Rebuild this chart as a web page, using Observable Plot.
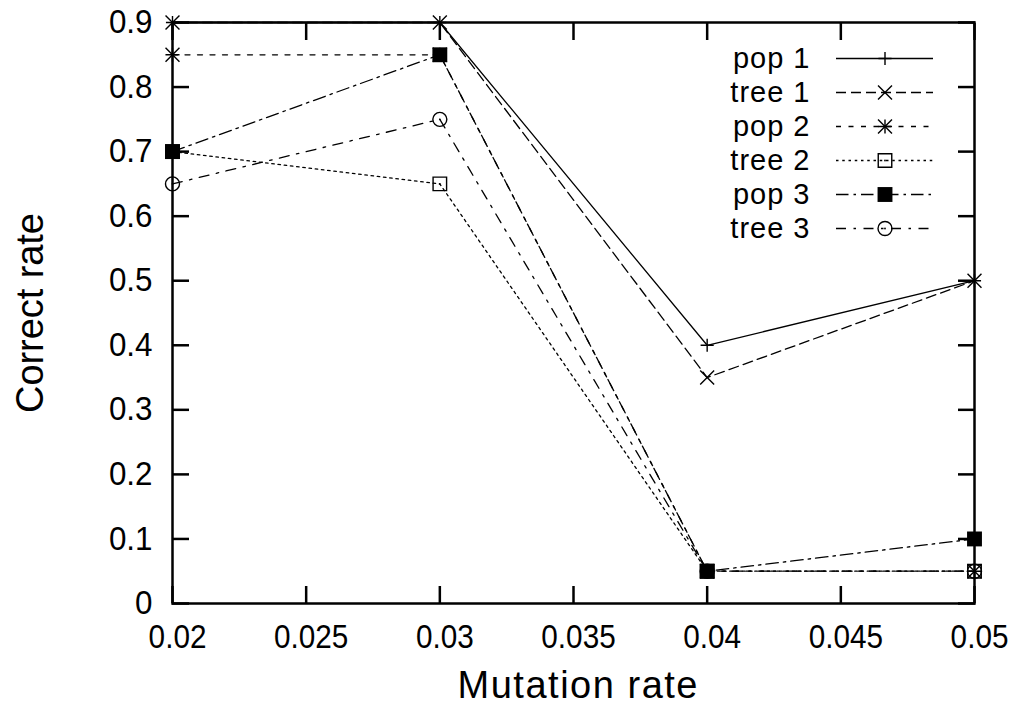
<!DOCTYPE html>
<html>
<head>
<meta charset="utf-8">
<script src="https://cdn.jsdelivr.net/npm/d3@7"></script>
<script src="https://cdn.jsdelivr.net/npm/@observablehq/plot@0.6"></script>
<style>
  html, body { margin: 0; padding: 0; background: #fff; }
  #wrap { position: relative; width: 1014px; height: 705px; }
  #legend { position: absolute; left: 700px; top: 40px; }
</style>
</head>
<body>
<div id="wrap"><div id="chart"></div><div id="legend"></div></div>
<script>
// ---- data ----
const mutationRates = [0.02, 0.03, 0.04, 0.05];
const seriesNames = ["pop 1", "tree 1", "pop 2", "tree 2", "pop 3", "tree 3"];
const pop1  = [0.90, 0.90, 0.40, 0.50];
const tree1 = [0.90, 0.90, 0.35, 0.50];
const pop2  = [0.85, 0.85, 0.05, 0.05];
const tree2 = [0.70, 0.65, 0.05, 0.05];
const pop3  = [0.70, 0.85, 0.05, 0.10];
const tree3 = [0.65, 0.75, 0.05, 0.05];
const xTicks = [0.02, 0.025, 0.03, 0.035, 0.04, 0.045, 0.05];
const yTicks = [0, 0.1, 0.2, 0.3, 0.4, 0.5, 0.6, 0.7, 0.8, 0.9];
const xTitle = "Mutation rate";
const yTitle = "Correct rate";

const seriesValues = [pop1, tree1, pop2, tree2, pop3, tree3];

// ---- styles (gnuplot-like) ----
const LW = 1.3, SW = 1.4;
const styles = {
  "pop 1":  {dash: null,               syms: [{symbol: "plus", r: 4.3}]},
  "tree 1": {dash: "10,5",             syms: [{symbol: "times", r: 6.4}]},
  "pop 2":  {dash: "5,7.5",            syms: [{symbol: "plus", r: 4.6}, {symbol: "times", r: 6.4}]},
  "tree 2": {dash: "2.5,3.75",         syms: [{symbol: "square2", r: 8.6}, {symbol: "circle", r: 0.9, fill: "black", stroke: "none"}]},
  "pop 3":  {dash: "12.5,5,2.5,5",     syms: [{symbol: "square", r: 8.4, fill: "black", stroke: "none"}]},
  "tree 3": {dash: "10,7.5,2.5,7.5",   syms: [{symbol: "circle", r: 7}, {symbol: "circle", r: 0.9, fill: "black", stroke: "none"}]}
};

const REGULAR = "'Liberation Sans', Arial, sans-serif";

const rows = [];
seriesNames.forEach((s, i) => seriesValues[i].forEach((v, j) => rows.push({series: s, x: mutationRates[j], y: v})));

function symbolMarks(data, xo, yo, sym) {
  return Plot.dot(data, {
    x: xo, y: yo, symbol: sym.symbol, r: sym.r,
    fill: sym.fill || "none", stroke: sym.stroke || "black", strokeWidth: SW
  });
}

const fmt = d => String(+d.toFixed(4));
const marks = [];
for (const s of seriesNames) {
  const data = rows.filter(r => r.series === s);
  const st = styles[s];
  marks.push(Plot.line(data, {x: "x", y: "y", stroke: "black", strokeWidth: LW, strokeDasharray: st.dash || undefined}));
  for (const sym of st.syms) marks.push(symbolMarks(data, "x", "y", sym));
}

marks.push(
  Plot.frame({stroke: "black", strokeWidth: 2.5}),
  Plot.axisX(xTicks, {anchor: "bottom", tickSize: -17, tickPadding: 38, tickFormat: fmt, strokeWidth: 2.5, label: null}),
  Plot.axisX(xTicks, {anchor: "top", tickSize: -17, tickPadding: 0, tickFormat: () => "", strokeWidth: 2.5, label: null}),
  Plot.axisY(yTicks, {anchor: "left", tickSize: -17, tickPadding: 37, tickFormat: fmt, strokeWidth: 2.5, label: null}),
  Plot.axisY(yTicks, {anchor: "right", tickSize: -17, tickPadding: 0, tickFormat: () => "", strokeWidth: 2.5, label: null}),
  Plot.text([xTitle], {text: d => d, frameAnchor: "bottom", lineAnchor: "middle", textAnchor: "middle", dy: 82.5, dx: 4, fontSize: 38, className: "xtitle"}),
  Plot.text([yTitle], {text: d => d, frameAnchor: "left", lineAnchor: "middle", textAnchor: "middle", rotate: -90, dx: -142, dy: 0, fontSize: 38, className: "ytitle"})
);

const chart = Plot.plot({
  width: 1014, height: 705,
  marginLeft: 172, marginRight: 40, marginTop: 22, marginBottom: 102,
  x: {domain: [0.02, 0.05]},
  y: {domain: [0, 0.9]},
  style: {fontFamily: REGULAR, fontSize: "33px", background: "white", color: "black", overflow: "visible"},
  marks
});
document.getElementById("chart").appendChild(chart);
const sel = d3.select(chart);
// gnuplot-like narrower tick glyphs
function squeeze(selection, factor) {
  selection.each(function () {
    const w = this.getComputedTextLength();
    if (w > 0) d3.select(this).attr("textLength", w * factor).attr("lengthAdjust", "spacingAndGlyphs");
  });
}
squeeze(sel.selectAll("[aria-label='x-axis tick label'] text").attr("dx", 5), 0.9);
squeeze(sel.selectAll("[aria-label='y-axis tick label'] text"), 0.95);
sel.selectAll(".xtitle text").attr("textLength", 240).attr("lengthAdjust", "spacing");
sel.selectAll(".ytitle text").attr("textLength", 200).attr("lengthAdjust", "spacing");

// ---- legend ----
const legendMarks = [];
for (const s of seriesNames) {
  const st = styles[s];
  legendMarks.push(Plot.ruleY([s], {y: d => d, x1: 0, x2: 1, stroke: "black", strokeWidth: LW, strokeDasharray: st.dash || undefined}));
  for (const sym of st.syms) legendMarks.push(symbolMarks([s], d => 0.5, d => d, sym));
}
legendMarks.push(Plot.text(seriesNames, {x: 0, y: d => d, text: d => d, textAnchor: "end", dx: -26, fontSize: 29}));

const legend = Plot.plot({
  width: 260, height: 210,
  marginLeft: 136, marginRight: 27, marginTop: 17, marginBottom: 20.5,
  x: {domain: [0, 1], axis: null},
  y: {type: "point", domain: seriesNames, padding: 0, axis: null},
  style: {fontFamily: REGULAR, fontSize: "29px", background: "transparent", color: "black", overflow: "visible"},
  marks: legendMarks
});
document.getElementById("legend").appendChild(legend);
d3.select(legend).selectAll("text").style("letter-spacing", "1px");
</script>
</body>
</html>
